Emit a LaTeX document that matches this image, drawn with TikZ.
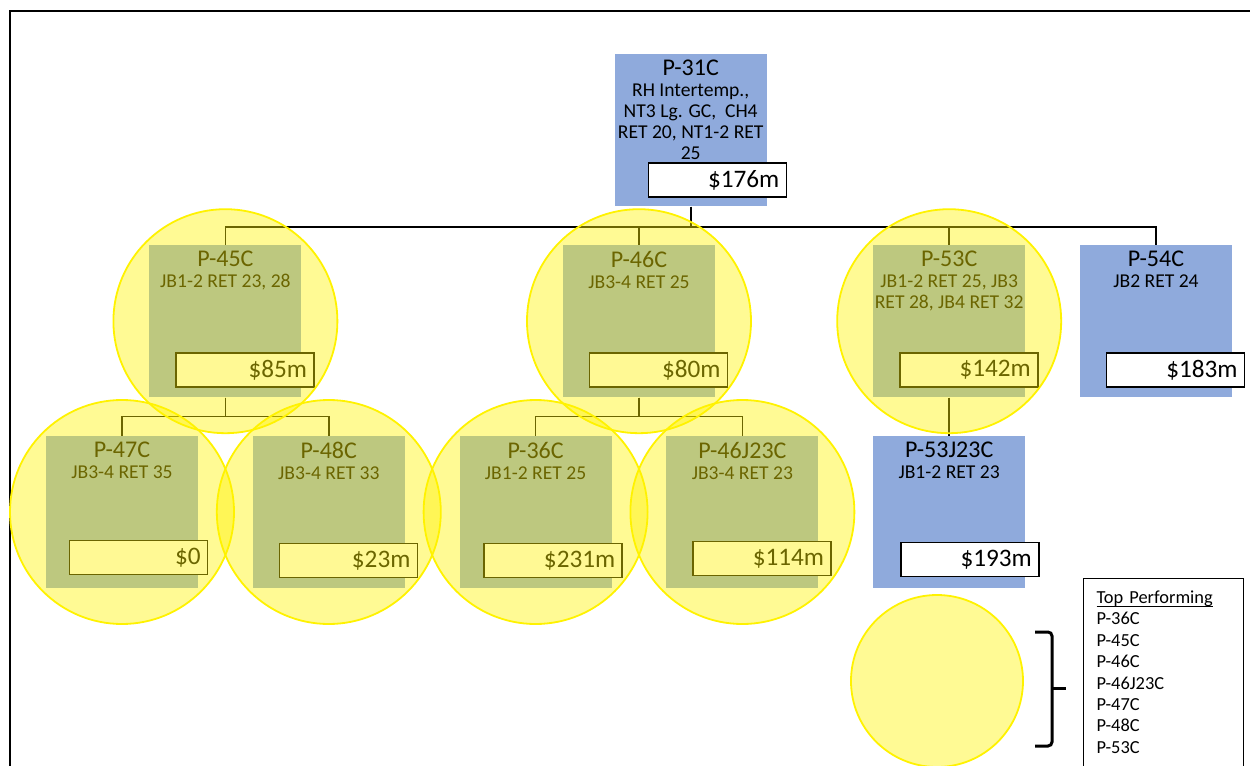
\documentclass[tikz,border=0pt,11pt]{standalone}
\usepackage{fontspec}
\setmainfont{Carlito}
\usepackage{tikz}
\usetikzlibrary{positioning,calc}
\definecolor{boxblue}{HTML}{8FAADC}
\tikzset{
  planbox/.style={
    rectangle, fill=boxblue,
    minimum width=76pt, minimum height=76pt,
    inner sep=0pt
  },
  boxtext/.style={anchor=north, align=center, inner sep=3pt,
    font=\fontsize{9.8}{10.5}\selectfont},
  valbox/.style={rectangle, draw=black, fill=white, line width=0.8pt,
    text width=62pt, align=right, inner xsep=3.5pt, inner ysep=0pt,
    minimum height=17pt, font=\fontsize{12.6}{14}\selectfont, anchor=south east},
  link/.style={draw=black, line width=0.8pt},
  hilite/.style={draw=yellow, line width=0.9pt, fill=yellow, fill opacity=0.42},
  legendbox/.style={rectangle, draw=black, line width=0.6pt, fill=white,
    align=left, text width=67pt, inner sep=6.5pt, anchor=north west,
    font=\fontsize{9.2}{10.7}\selectfont},
  bracket/.style={draw=black, line width=1.5pt, rounded corners=2pt},
}

\begin{document}
\begin{tikzpicture}[x=0.5pt, y=-0.5pt]
\useasboundingbox (0,0) rectangle (1250,766);
\draw[line width=1.2pt] (10,766) -- (10,11) -- (1250,11);
% bottom row
\node[planbox, label={[boxtext]north:{{\large P-47C}\\JB3-4 RET 35}}] (p47) at (122,512) {};
\node[planbox, right=27pt of p47, label={[boxtext]north:{{\large P-48C}\\JB3-4 RET 33}}] (p48) {};
\node[planbox, right=27pt of p48, label={[boxtext]north:{{\large P-36C}\\JB1-2 RET 25}}] (p36) {};
\node[planbox, right=27pt of p36, label={[boxtext]north:{{\large P-46J23C}\\JB3-4 RET 23}}] (p46j) {};
\node[planbox, right=27pt of p46j, label={[boxtext]north:{{\large P-53J23C}\\JB1-2 RET 23}}] (p53j) {};
% middle row
\coordinate (m45) at ($(p47.north)!0.5!(p48.north)$);
\coordinate (m46) at ($(p36.north)!0.5!(p46j.north)$);
\node[planbox, above=19pt of m45, label={[boxtext]north:{{\large P-45C}\\JB1-2 RET 23, 28}}] (p45) {};
\node[planbox, above=19pt of m46, label={[boxtext]north:{{\large P-46C}\\JB3-4 RET 25}}] (p46) {};
\node[planbox, above=19pt of p53j, label={[boxtext]north:{{\large P-53C}\\JB1-2 RET 25, JB3\\RET 28, JB4 RET 32}}] (p53) {};
\node[planbox, right=27pt of p53, label={[boxtext]north:{{\large P-54C}\\JB2 RET 24}}] (p54) {};
% top
\coordinate (m31) at ($(p45.north)!0.5!(p54.north)$);
\node[planbox, above=19pt of m31, label={[boxtext]north:{{\large P-31C}\\RH Intertemp.,\\NT3 Lg. GC,\ \ CH4\\RET 20, NT1-2 RET\\25}}] (p31) {};
% cost boxes
\node[valbox] (v31) at ($(p31.south east)+(10pt,4.5pt)$) {\$176m};
\node[valbox] (v45) at ($(p45.south east)+(6.5pt,5pt)$) {\$85m};
\node[valbox] (v46) at ($(p46.south east)+(6.5pt,5pt)$) {\$80m};
\node[valbox] (v53) at ($(p53.south east)+(6.5pt,5pt)$) {\$142m};
\node[valbox] (v54) at ($(p54.south east)+(6.5pt,5pt)$) {\$183m};
\node[valbox] (v47) at ($(p47.south east)+(5pt,6.5pt)$) {\$0};
\node[valbox] (v48) at ($(p48.south east)+(6.5pt,5pt)$) {\$23m};
\node[valbox] (v36) at ($(p36.south east)+(5.5pt,5pt)$) {\$231m};
\node[valbox] (v46j) at ($(p46j.south east)+(6.5pt,6pt)$) {\$114m};
\node[valbox] (v53j) at ($(p53j.south east)+(7pt,5.5pt)$) {\$193m};
% tree lines
\draw[link] (p31.south) -- ++(0,-10pt) -| (p45.north);
\draw[link] (p31.south) -- ++(0,-10pt) -| (p46.north);
\draw[link] (p31.south) -- ++(0,-10pt) -| (p53.north);
\draw[link] (p31.south) -- ++(0,-10pt) -| (p54.north);
\draw[link] (p45.south) -- ++(0,-9.5pt) -| (p47.north);
\draw[link] (p45.south) -- ++(0,-9.5pt) -| (p48.north);
\draw[link] (p46.south) -- ++(0,-9.5pt) -| (p36.north);
\draw[link] (p46.south) -- ++(0,-9.5pt) -| (p46j.north);
\draw[link] (p53.south) -- (p53j.north);
% top performers
\draw[hilite] (p45) circle[radius=56pt];
\draw[hilite] (p46) circle[radius=56pt];
\draw[hilite] (p53) circle[radius=56pt];
\draw[hilite] (p47) circle[radius=56pt];
\draw[hilite] (p48) circle[radius=56pt];
\draw[hilite] (p36) circle[radius=56pt];
\draw[hilite] (p46j) circle[radius=56pt];
% legend
\draw[hilite] (937,681) circle[radius=43pt];
\draw[bracket] (1035,632) -- (1052,632) -- (1052,746) -- (1035,746);
\draw[bracket] (1052,688) -- (1066,688);
\node[legendbox] (legend) at (1083,578) {\underline{\vphantom{T}\smash{Top Performing}}\\P-36C\\P-45C\\P-46C\\P-46J23C\\P-47C\\P-48C\\P-53C};
\end{tikzpicture}
\end{document}
